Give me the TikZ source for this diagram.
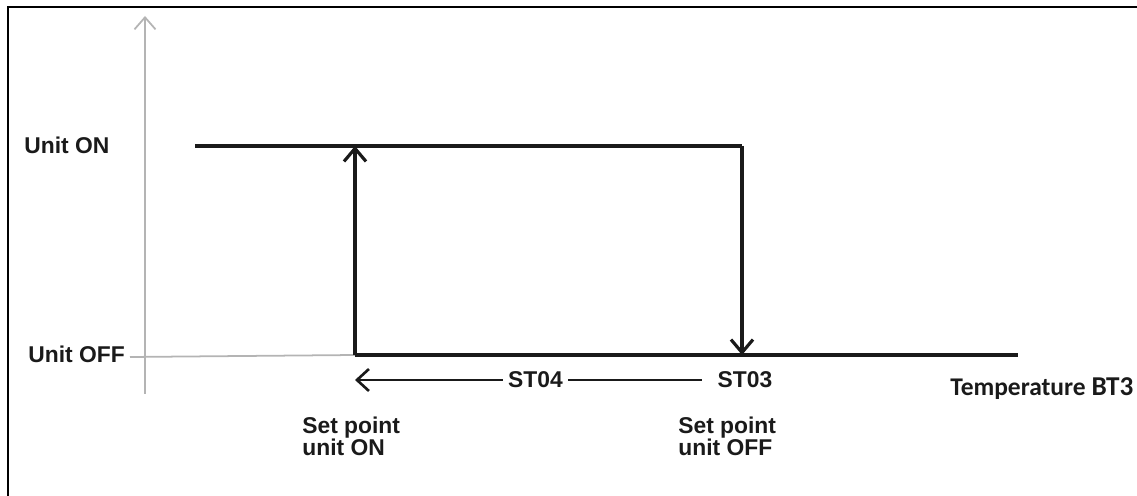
\documentclass[tikz,border=0pt]{standalone}
\usepackage{fontspec}
\setmainfont{Liberation Sans}
\newfontfamily\calfont{Carlito}
\usetikzlibrary{arrows.meta,positioning}
\definecolor{hysline}{HTML}{1A1A1A}
\definecolor{hysaxis}{HTML}{B4B4B4}
\tikzset{
  lbl/.style={font=\bfseries\fontsize{13}{12.5}\selectfont,text=hysline,inner sep=0pt,align=left},
  curve/.style={draw=hysline,line width=2.6pt},
  jump/.style={draw=hysline,line width=1.8pt,-{Straight Barb[length=2.6mm,width=4.4mm,line width=1.8pt]}},
  band/.style={draw=hysline,line width=1.5pt},
  axis/.style={draw=hysaxis,line width=1pt},
}
\begin{document}
\begin{tikzpicture}[x=0.02cm,y=-0.02cm]
    \useasboundingbox (0,0) rectangle (1137,496);
    % frame
    \coordinate (fb) at (8,496);\coordinate (ftl) at (8,7);\coordinate (fr) at (1137,7);
    \draw[line width=1.3pt] (fb)--(ftl)--(fr);
    % axes
    \coordinate (ybot) at (145,394);\coordinate (ytop) at (145,16);
    \draw[axis,-{Straight Barb[length=2.4mm,width=4.2mm,line width=1pt]}](ybot)--(ytop);
    \node[lbl,anchor=base west](uon) at (24,154){Unit ON};
    \node[lbl,anchor=base west](uoff) at (28,363){Unit OFF};
    \coordinate (tick) at (130,357);
    % hysteresis loop
    \coordinate (onL) at (195,146);\coordinate (onR) at (742,146);
    \coordinate (spOn) at (355,355);\coordinate (spOff) at (742,355);
    \coordinate (offR) at (1018,355);
    \draw[axis](tick)--(spOn);
    \draw[curve](onL)--(onR);
    \draw[curve](spOn)--(offR);
    \draw[jump](spOn)--(spOn |- onL);
    \draw[jump](onR)--(spOff);
    % set point band
    \node[lbl,inner sep=3pt](st04) at (535.5,380){ST04};
    \node[lbl,inner xsep=9pt](st03) at (745,380){ST03};
    \draw[band,-{Straight Barb[length=2.4mm,width=4.4mm,line width=1.5pt]}](st04.west)--(spOn |- st04);
    \draw[band](st04.east)--(st03.west);
    \node[lbl,anchor=north west](lon) at (302,417){Set point\\unit ON};
    \node[lbl,anchor=north west](loff) at (678,417){Set point\\unit OFF};
    \node[lbl,anchor=base west](temp) at (950,396){\calfont\fontsize{14.5}{16}\selectfont Temperature \fontsize{15.5}{16}\selectfont BT3};
  \end{tikzpicture}
\end{document}
